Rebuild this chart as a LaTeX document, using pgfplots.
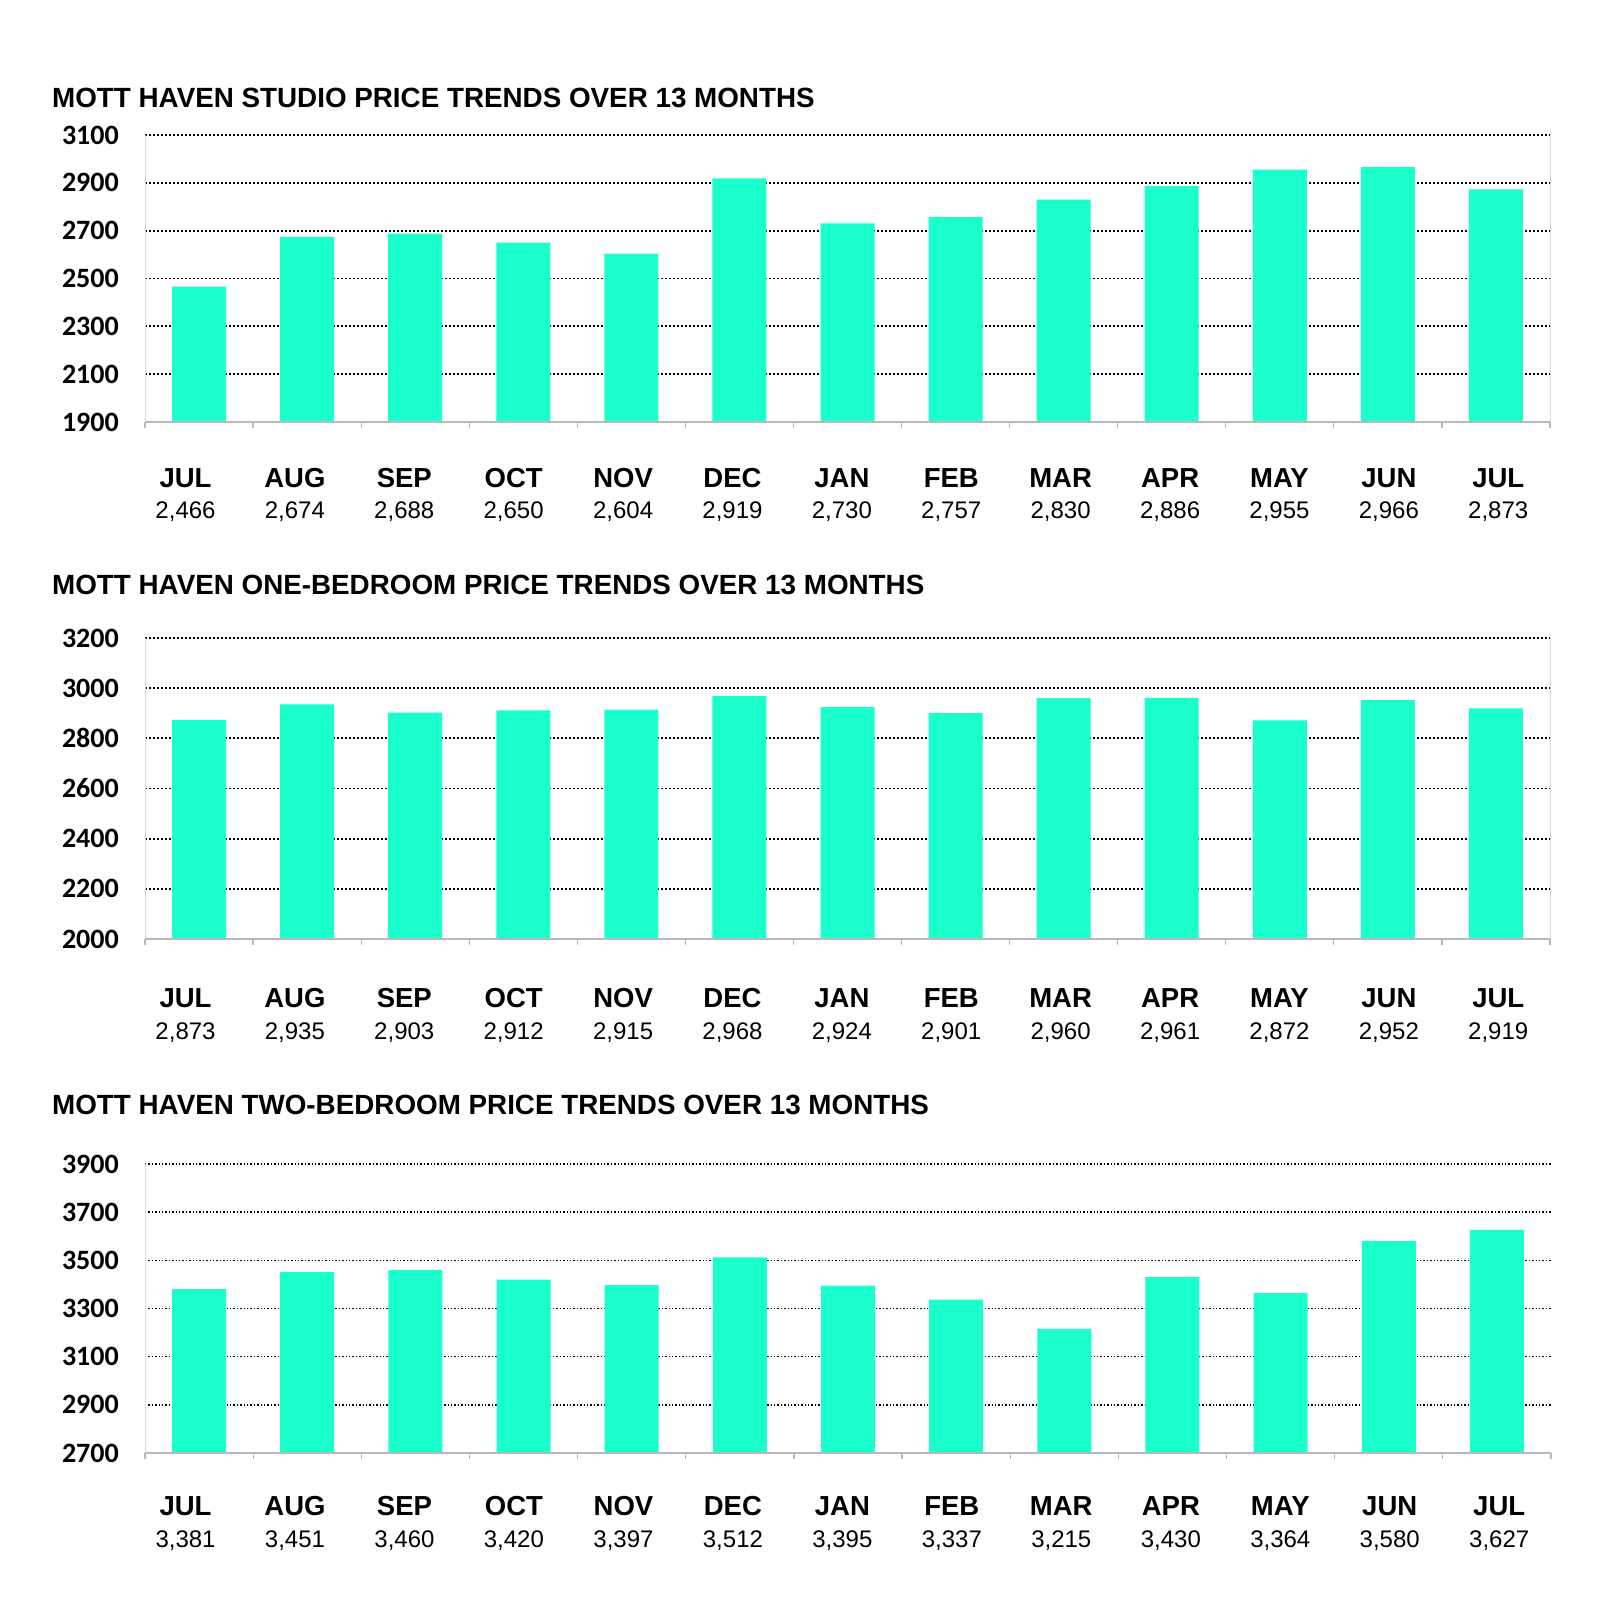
\documentclass[border=0pt]{standalone}
\usepackage{fontspec}
\setmainfont{Liberation Sans}
\newfontfamily\carlito{Carlito}
\usepackage{pgfplots}
\pgfplotsset{compat=1.18}

\definecolor{barc}{RGB}{26,255,204}
\definecolor{axgray}{RGB}{185,185,185}
\definecolor{lgray}{RGB}{217,217,217}

\newcommand\titlefont{\bfseries\fontsize{27.8}{30}\selectfont}
\newcommand\monthfont{\bfseries\fontsize{27.5}{30}\selectfont}
\newcommand\valfont{\fontsize{24}{28}\selectfont}
\newcommand\ytfont{\carlito\bfseries\fontsize{28}{30}\selectfont}

% label row sits on its own grid, a little wider than the bars
\def\labpos{-0.125,0.887,1.899,2.911,3.924,4.936,5.948,6.960,7.972,8.985,9.997,11.009,12.021}

\pgfplotsset{
  mott/.style={
    scale only axis, width=1405pt,
    anchor=south west,
    xmin=-0.5, xmax=12.5,
    ybar, bar width=54pt,
    axis line style={draw=none},
    xtick=\labpos,
    xticklabels={JUL,AUG,SEP,OCT,NOV,DEC,JAN,FEB,MAR,APR,MAY,JUN,JUL},
    xtick pos=bottom, ytick pos=left,
    major tick length=0pt,
    minor xtick={-0.5,0.5,...,12.5},
    minor tick length=6pt,
    tick align=outside,
    minor tick style={axgray, line width=1.2pt},
    xticklabel style={font=\monthfont, anchor=base, inner sep=0pt},
    yticklabel style={font=\ytfont, anchor=east, inner sep=0pt, xshift=-26pt},
    /pgf/number format/1000 sep={},
    /pgf/number format/assume math mode=true,
    ymajorgrids,
    major grid style={black, line width=1.8pt, dash pattern=on 1.8pt off 2.2pt},
    extra x ticks=\labpos,
    extra x tick style={grid=none, major tick length=0pt},
    after end axis/.code={
      \draw[lgray, line width=1pt] (rel axis cs:0,0) -- (rel axis cs:0,1);
      \draw[axgray, line width=1.5pt] (rel axis cs:0,0) -- (rel axis cs:1,0);
    },
  }
}

\begin{document}
\begin{tikzpicture}
\path[use as bounding box, fill=white] (0,0) rectangle (1600pt,-1623pt);

% studio
\node[anchor=west, inner sep=0pt] at (52pt,-98pt) {\titlefont MOTT HAVEN STUDIO PRICE TRENDS OVER 13 MONTHS};
\begin{axis}[mott, at={(145pt,-422pt)}, height=287pt,
  ymin=1900, ymax=3100, ytick={1900,2100,...,3100},
  xticklabel style={yshift=-65pt},
  every extra x tick/.append style={xticklabel style={font=\valfont, yshift=-31pt}},
  extra x tick labels={{2,466},{2,674},{2,688},{2,650},{2,604},{2,919},{2,730},{2,757},{2,830},{2,886},{2,955},{2,966},{2,873}},
  after end axis/.append code={\draw[lgray, line width=1pt] (rel axis cs:1,0) -- (rel axis cs:1,1);}]
\addplot[fill=barc, draw=none] coordinates {
  (0,2466) (1,2674) (2,2688) (3,2650) (4,2604) (5,2919) (6,2730)
  (7,2757) (8,2830) (9,2886) (10,2955) (11,2966) (12,2873)};
\end{axis}

% one-bedroom
\node[anchor=west, inner sep=0pt] at (52pt,-585pt) {\titlefont MOTT HAVEN ONE-BEDROOM PRICE TRENDS OVER 13 MONTHS};
\begin{axis}[mott, at={(145pt,-939pt)}, height=301pt,
  ymin=2000, ymax=3200, ytick={2000,2200,...,3200},
  xticklabel style={yshift=-68pt},
  every extra x tick/.append style={xticklabel style={font=\valfont, yshift=-32pt}},
  extra x tick labels={{2,873},{2,935},{2,903},{2,912},{2,915},{2,968},{2,924},{2,901},{2,960},{2,961},{2,872},{2,952},{2,919}},
  after end axis/.append code={\draw[lgray, line width=1pt] (rel axis cs:1,0) -- (rel axis cs:1,1);}]
\addplot[fill=barc, draw=none] coordinates {
  (0,2873) (1,2935) (2,2903) (3,2912) (4,2915) (5,2968) (6,2924)
  (7,2901) (8,2960) (9,2961) (10,2872) (11,2952) (12,2919)};
\end{axis}

% two-bedroom
\node[anchor=west, inner sep=0pt] at (52pt,-1105pt) {\titlefont MOTT HAVEN TWO-BEDROOM PRICE TRENDS OVER 13 MONTHS};
\begin{axis}[mott, at={(145pt,-1453pt)}, height=289pt, width=1406pt,
  ymin=2700, ymax=3900, ytick={2700,2900,...,3900},
  major grid style={black, line width=1.4pt, dash pattern=on 1.4pt off 2pt},
  xticklabel style={yshift=-62pt},
  every extra x tick/.append style={xticklabel style={font=\valfont, yshift=-32pt}},
  extra x tick labels={{3,381},{3,451},{3,460},{3,420},{3,397},{3,512},{3,395},{3,337},{3,215},{3,430},{3,364},{3,580},{3,627}}]
\addplot[fill=barc, draw=none] coordinates {
  (0,3381) (1,3451) (2,3460) (3,3420) (4,3397) (5,3512) (6,3395)
  (7,3337) (8,3215) (9,3430) (10,3364) (11,3580) (12,3627)};
\end{axis}
\end{tikzpicture}
\end{document}
